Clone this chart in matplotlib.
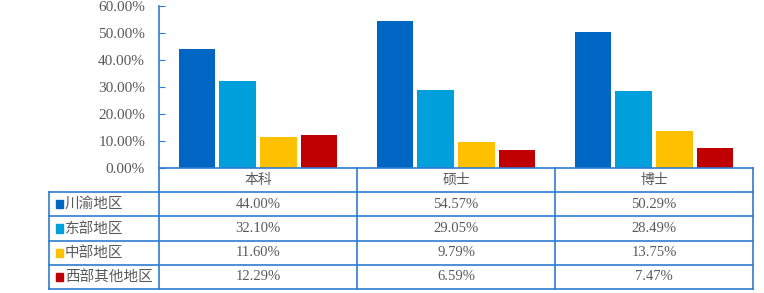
import numpy as np
import matplotlib.pyplot as plt
from matplotlib.patches import Rectangle

# data
categories = ['本科', '硕士', '博士']
regions = ['川渝地区', '东部地区', '中部地区', '西部其他地区']
values = [
    [44.00, 54.57, 50.29],
    [32.10, 29.05, 28.49],
    [11.60, 9.79, 13.75],
    [12.29, 6.59, 7.47],
]
colors = ['#0066C4', '#00A0DC', '#FFC000', '#C00000']
yticks = [0, 10, 20, 30, 40, 50, 60]

W, H = 764, 293
linecol = '#2E7BCF'
txtcol = '#595959'
serif = ['Liberation Serif', 'Noto Sans CJK SC']
cjk = ['Noto Sans CJK SC', 'DejaVu Sans']

fig = plt.figure(figsize=(W / 100, H / 100), dpi=100)

# layout in pixels
plot_l, plot_r = 159, 753
plot_top, plot_bot = 6, 168
tab_l, tab_bot = 49, 289

ax = fig.add_axes([plot_l / W, (H - plot_bot) / H,
                   (plot_r - plot_l) / W, (plot_bot - plot_top) / H])
n = len(regions)
step, bw = 0.207, 0.182
x = np.arange(len(categories))
for i in range(n):
    ax.bar(x + (i - (n - 1) / 2) * step, values[i], width=bw, color=colors[i])
ax.set_xlim(-0.5, len(categories) - 0.5)
ax.set_ylim(0, 60)
ax.set_yticks(yticks)
ax.set_yticklabels(['{:.2f}%'.format(v) for v in yticks], family=serif,
                   fontsize=11, color=txtcol)
ax.set_xticks([])
ax.tick_params(axis='y', direction='in', length=4, color=linecol, pad=10)
for s in ['top', 'right', 'bottom']:
    ax.spines[s].set_visible(False)
ax.spines['left'].set_color(linecol)
ax.spines['left'].set_linewidth(1.2)

# table below the plot
lab_w = (plot_l - tab_l) / ((plot_r - plot_l) / len(categories))
tx = fig.add_axes([tab_l / W, (H - tab_bot) / H,
                   (plot_r - tab_l) / W, (tab_bot - plot_bot) / H])
x0 = -0.5 - lab_w
x1 = len(categories) - 0.5
nrows = n + 1
tx.set_xlim(x0, x1)
tx.set_ylim(nrows, 0)
tx.axis('off')

lw = 1.2
tx.plot([-0.5, x1], [0, 0], color=linecol, lw=lw, clip_on=False)
for r in range(1, nrows + 1):
    tx.plot([x0, x1], [r, r], color=linecol, lw=lw, clip_on=False)
tx.plot([x0, x0], [1, nrows], color=linecol, lw=lw, clip_on=False)
for c in np.arange(len(categories) + 1) - 0.5:
    tx.plot([c, c], [0, nrows], color=linecol, lw=lw, clip_on=False)

for j, cat in enumerate(categories):
    tx.text(j, 0.5, cat, ha='center', va='center', family=cjk,
            fontsize=10, color=txtcol)
for i, reg in enumerate(regions):
    yc = i + 1.5
    tx.add_patch(Rectangle((x0 + 0.035, yc - 0.17), 0.036, 0.34,
                           color=colors[i], clip_on=False))
    tx.text(x0 + 0.08, yc, reg, ha='left', va='center', family=cjk,
            fontsize=10.5, color=txtcol)
    for j in range(len(categories)):
        tx.text(j, yc, '{:.2f}%'.format(values[i][j]), ha='center',
                va='center', family=serif, fontsize=10.5, color=txtcol)

fig.savefig('out.png', dpi=100)
